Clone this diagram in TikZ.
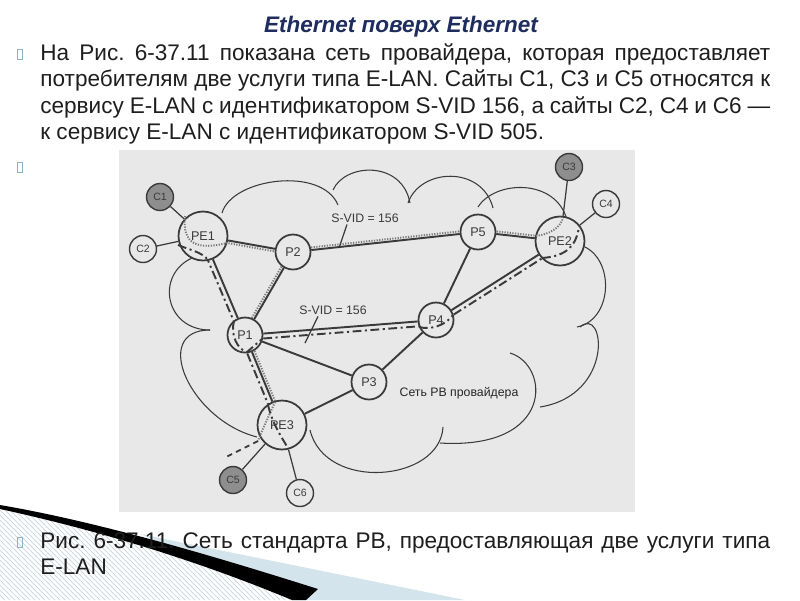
\documentclass[tikz,border=0pt]{standalone}
\usepackage{fontspec}
\setmainfont{Liberation Sans}
\usetikzlibrary{calc}
\definecolor{scanbg}{HTML}{E8E8E8}
\definecolor{ink}{HTML}{3A3A3A}
\definecolor{darkc}{HTML}{8E8E8E}
\definecolor{dotc}{HTML}{7A7A7A}
\definecolor{titlec}{HTML}{1F2D5E}
\definecolor{bodyc}{HTML}{1E1E1E}
\definecolor{bulletc}{HTML}{8DB3C7}
\definecolor{hatchc}{HTML}{C9D4DB}
\definecolor{bandc}{HTML}{D3E4ED}
\pgfdeclarelayer{base}
\pgfdeclarelayer{bg}
\pgfdeclarelayer{fg}
\pgfsetlayers{base,bg,main,fg}
\frenchspacing
\newcommand{\bodyfont}{\fontsize{12.85pt}{15pt}\selectfont}
\tikzset{
 bodyline/.style={anchor=base west, inner sep=0pt, font=\bodyfont, text=bodyc},
 bulletbox/.style={draw=bulletc, line width=0.5pt, minimum width=0.11cm, minimum height=0.2cm, inner sep=0pt},
 pe/.style={circle, draw=ink, line width=1pt, fill=scanbg, minimum size=0.98cm, inner sep=0pt, font=\fontsize{7.2pt}{8pt}\selectfont, text=ink},
 pnode/.style={pe, minimum size=0.7cm},
 cnode/.style={circle, draw=ink, line width=0.8pt, fill=scanbg, minimum size=0.54cm, inner sep=0pt, font=\fontsize{6pt}{7pt}\selectfont, text=ink},
 cdark/.style={cnode, fill=darkc},
 link/.style={draw=ink, line width=1.1pt},
 clink/.style={draw=ink, line width=0.7pt},
 cloudline/.style={draw=ink, line width=0.6pt},
 svcdot/.style={draw=dotc, line width=1.1pt, dash pattern=on 0.7pt off 0.8pt},
 svcdash/.style={draw=ink, line width=1.1pt, dash pattern=on 5pt off 2pt on 1.2pt off 2pt},
 svcdashed/.style={draw=ink, line width=1pt, dash pattern=on 3pt off 2.5pt},
 lbl/.style={font=\fontsize{7pt}{8pt}\selectfont, text=ink, inner sep=1pt},
}
\begin{document}
\begin{tikzpicture}[x=0.02cm,y=-0.02cm]
\useasboundingbox (0,0) rectangle (800,600);
\begin{pgfonlayer}{base}
\fill[white] (0,0) rectangle (800,600);
% bottom-left decoration
\begin{scope}
 \clip (0,509) .. controls (120,535) and (220,570) .. (292,600) -- (0,600) -- cycle;
 \foreach \k in {-130,-125,...,330} \draw[hatchc, line width=0.4pt] (\k,490) -- ++(120,120);
\end{scope}
\fill[bandc] (140,534) -- (465,600) -- (300,600) -- cycle;
\fill[black] (0,505) .. controls (100,522) and (220,558) .. (318,589) -- (306,600) -- (292,600) .. controls (220,570) and (120,535) .. (0,509) -- cycle;
% scanned figure background
\fill[scanbg] (119,150) rectangle (635,512);
\end{pgfonlayer}

% texts
\node[anchor=base, inner sep=0pt, font=\fontsize{12.8pt}{14pt}\selectfont\bfseries\itshape, text=titlec] (title) at (401,32) {Ethernet поверх Ethernet};
\node[bulletbox] (b1) at (20,54) {};
\node[bulletbox] (b2) at (20,167) {};
\node[bulletbox] (b3) at (20,542) {};
\node[bodyline] (t1) at (40,60) {\makebox[14.6cm][s]{На Рис. 6-37.11 показана сеть провайдера, которая предоставляет}};
\node[bodyline] (t2) at (40,86) {\makebox[14.6cm][s]{потребителям две услуги типа E-LAN. Сайты C1, C3 и C5 относятся к}};
\node[bodyline] (t3) at (40,113) {\makebox[14.6cm][s]{сервису E-LAN с идентификатором S-VID 156, а сайты C2, C4 и C6 —}};
\node[bodyline] (t4) at (40,139) {к сервису E-LAN с идентификатором S-VID 505.};
\node[bodyline] (t5) at (40,548) {\makebox[14.6cm][s]{Рис. 6-37.11. Сеть стандарта PB, предоставляющая две услуги типа}};
\node[bodyline] (t6) at (40,574) {E-LAN};

% network nodes
\node[pe] (PE1) at (203,236) {PE1};
\node[pnode] (P2) at (293,252) {P2};
\node[pnode] (P5) at (478,232) {P5};
\node[pe] (PE2) at (560,241) {PE2};
\node[pnode] (P1) at (245,335) {P1};
\node[pnode] (P4) at (436,320) {P4};
\node[pnode] (P3) at (369,382) {P3};
\node[pe] (PE3) at (282,425) {PE3};
\node[cdark] (C1) at (160,197) {C1};
\node[cnode] (C2) at (143,249) {C2};
\node[cdark] (C3) at (569,167) {C3};
\node[cnode] (C4) at (606,204) {C4};
\node[cdark] (C5) at (233,480) {C5};
\node[cnode] (C6) at (300,493) {C6};

\node[lbl] (sv1) at (365,218) {S-VID = 156};
\node[lbl] (sv2) at (333,310) {S-VID = 156};
\node[lbl, text=black!85] (net) at (459,393) {Сеть PB провайдера};
\coordinate (sv1e) at (339,248);
\coordinate (sv2e) at (305,343);

\begin{pgfonlayer}{bg}
 % cloud
 \draw[cloudline] (222,213) .. controls (232,178) and (322,166) .. (338,205);
 \draw[cloudline] (333,190) .. controls (345,163) and (402,160) .. (410,203);
 \draw[cloudline] (408,203) .. controls (420,168) and (482,165) .. (493,208);
 \draw[cloudline] (478,207) .. controls (495,180) and (556,178) .. (567,220);
 \draw[cloudline] (585,247) .. controls (615,262) and (612,320) .. (577,327);
 \draw[cloudline] (580,327) .. controls (605,305) and (615,395) .. (540,407);
 \draw[cloudline] (510,353) .. controls (550,365) and (555,450) .. (440,443);
 \draw[cloudline] (443,427) .. controls (440,482) and (325,492) .. (310,430);
 \draw[cloudline] (257,437) .. controls (190,420) and (150,330) .. (210,330);
 \draw[cloudline] (210,330) .. controls (165,330) and (155,275) .. (192,258);
 % links
 \draw[link] (PE1) -- (P2);
 \draw[link] (PE1) -- (P1);
 \draw[link] (P2) -- (P5);
 \draw[link] (P5) -- (PE2);
 \draw[link] (P2) -- (P1);
 \draw[link] (P5) -- (P4);
 \draw[link] (P4) -- (PE2);
 \draw[link] (P1) -- (P4);
 \draw[link] (P1) -- (P3);
 \draw[link] (P3) -- (P4);
 \draw[link] (P1) -- (PE3);
 \draw[link] (PE3) -- (P3);
 \draw[clink] (C1) -- (PE1);
 \draw[clink] (C2) -- (PE1);
 \draw[clink] (C3) -- (PE2);
 \draw[clink] (C4) -- (PE2);
 \draw[clink] (C5) -- (PE3);
 \draw[clink] (C6) -- (PE3);
 % service S-VID 156 (dotted)
 \draw[svcdot] ($(PE1)!1.5pt!-90:(P2)$) -- ($(P2)!1.5pt!90:(PE1)$);
 \draw[svcdot] ($(P2)!1.5pt!90:(P5)$) -- ($(P5)!1.5pt!-90:(P2)$);
 \draw[svcdot] ($(P5)!1.5pt!90:(PE2)$) -- ($(PE2)!1.5pt!-90:(P5)$);
 \draw[svcdot] ($(P2)!1.5pt!-90:(P1)$) -- ($(P1)!1.5pt!90:(P2)$);
 \draw[svcdot] ($(P1)!1.5pt!90:(PE3)$) -- ($(PE3)!1.5pt!-90:(P1)$);
 % service dash-dot
 \draw[svcdash] ($(PE1)!2.8pt!-90:(P1)$) -- ($(P1)!2.8pt!90:(PE1)$);
 \draw[svcdash] ($(P1)!2.8pt!-90:(P4)$) -- ($(P4)!2.8pt!90:(P1)$);
 \draw[svcdash] ($(P4)!2.8pt!-90:(PE2)$) -- ($(PE2)!2.8pt!90:(P4)$);
 \draw[svcdash] ($(P1)!2.8pt!-90:(PE3)$) -- ($(PE3)!2.8pt!90:(P1)$);
\end{pgfonlayer}

\begin{pgfonlayer}{fg}
 \draw[svcdot] (185,216) .. controls (182,245) and (198,250) .. (227,243);
 \draw[svcdash] (178,245) .. controls (190,250) and (202,252) .. (208,260);
 \draw[svcdot] (536,236) .. controls (550,234) and (560,228) .. (563,218);
 \draw[svcdash] (542,258) .. controls (568,256) and (576,245) .. (579,227);
 \draw[svcdot] (275,402) .. controls (268,418) and (262,430) .. (258,441);
 \draw[svcdashed] (258,441) -- (224,458);
 \draw[svcdash] (268,405) .. controls (272,422) and (280,435) .. (288,448);
 \draw[svcdash] (234,321) .. controls (230,335) and (238,350) .. (247,352) -- (262,339);
 \draw[svcdash] (419,327) .. controls (430,330) and (445,326) .. (453,315);
 \draw[clink] ($(sv1.south)+(-18,0)$) -- (sv1e);
 \draw[clink] ($(sv2.south)+(-15,0)$) -- (sv2e);
\end{pgfonlayer}
\end{tikzpicture}
\end{document}
